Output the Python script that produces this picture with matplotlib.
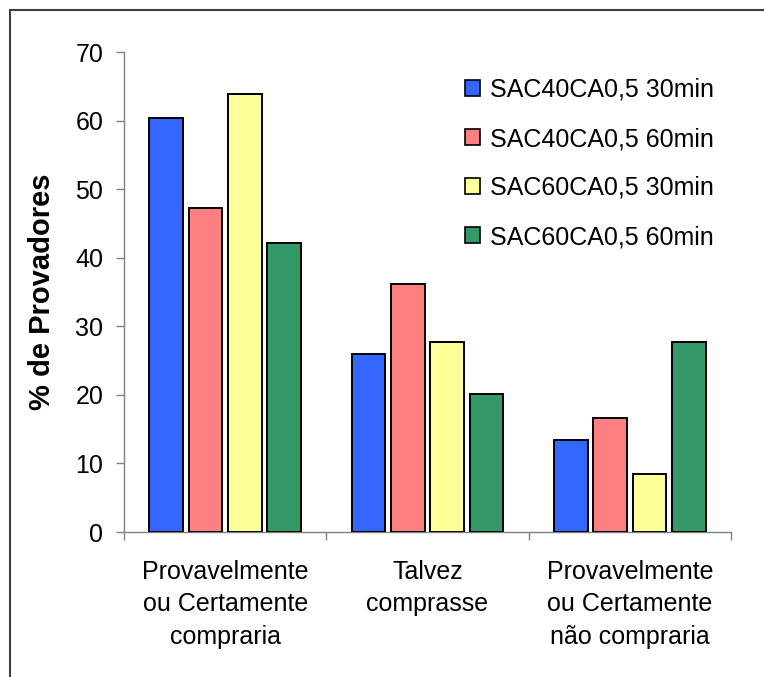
import numpy as np
import matplotlib
matplotlib.use('Agg')
import matplotlib.pyplot as plt
from matplotlib.patches import Rectangle

plt.rcParams['font.family'] = ['Liberation Sans', 'DejaVu Sans']

# categories on the x axis
categories = ['Provavelmente\nou Certamente\ncompraria',
              'Talvez\ncomprasse',
              'Provavelmente\nou Certamente\nnão compraria']

# % of tasters per sample
series_names = ['SAC40CA0,5 30min', 'SAC40CA0,5 60min',
                'SAC60CA0,5 30min', 'SAC60CA0,5 60min']
sac40_30 = [60.4, 25.9, 13.4]
sac40_60 = [47.2, 36.2, 16.6]
sac60_30 = [63.9, 27.7, 8.4]
sac60_60 = [42.2, 20.1, 27.7]
series_values = [sac40_30, sac40_60, sac60_30, sac60_60]
colors = ['#3366FF', '#FF8080', '#FFFF99', '#339966']

W, H = 764, 677
fig = plt.figure(figsize=(W / 100, H / 100), dpi=100)
ax = fig.add_axes([124 / W, 1 - 532 / H, (731 - 124) / W, (532 - 52) / H])

centers = np.arange(len(categories)) + 0.5
pitch = 0.194
width = 0.166
for i, vals in enumerate(series_values):
    ax.bar(centers + (i - 1.5) * pitch, vals, width=width, color=colors[i],
           edgecolor='black', linewidth=1.4, label=series_names[i], zorder=3)

ax.set_xlim(0, 3)
ax.set_ylim(0, 70)
ax.set_yticks(np.arange(0, 71, 10))
ax.set_xticks([0, 1, 2, 3])
ax.set_xticklabels([])
ax.set_xticks(centers, minor=True)
ax.set_xticklabels(categories, minor=True, fontsize=18, linespacing=1.45)
ax.tick_params(axis='x', which='minor', length=0, pad=20)
ax.tick_params(axis='x', which='major', length=6, width=1, color='#808080')
ax.tick_params(axis='y', length=6, width=1, color='#808080', labelsize=18, pad=9)

for side in ['top', 'right']:
    ax.spines[side].set_visible(False)
for side in ['left', 'bottom']:
    ax.spines[side].set_color('#808080')
    ax.spines[side].set_linewidth(1)

ax.set_ylabel('% de Provadores', fontsize=21, fontweight='bold', labelpad=14)

leg = ax.legend(loc='upper left', bbox_to_anchor=(465 / W, 1 - 78 / H),
                bbox_transform=fig.transFigure, frameon=False, fontsize=18,
                handlelength=0.6, handleheight=0.6, handletextpad=0.4,
                labelspacing=1.0, borderpad=0, borderaxespad=0)
for h in leg.legend_handles:
    h.set_linewidth(1.2)

# outer chart border
fig.add_artist(Rectangle((10 / W, -0.1), 2, 1.1 - 10 / H, transform=fig.transFigure,
                         fill=False, edgecolor='#404040', linewidth=1.5, clip_on=False))

fig.savefig('out.png', dpi=100)
